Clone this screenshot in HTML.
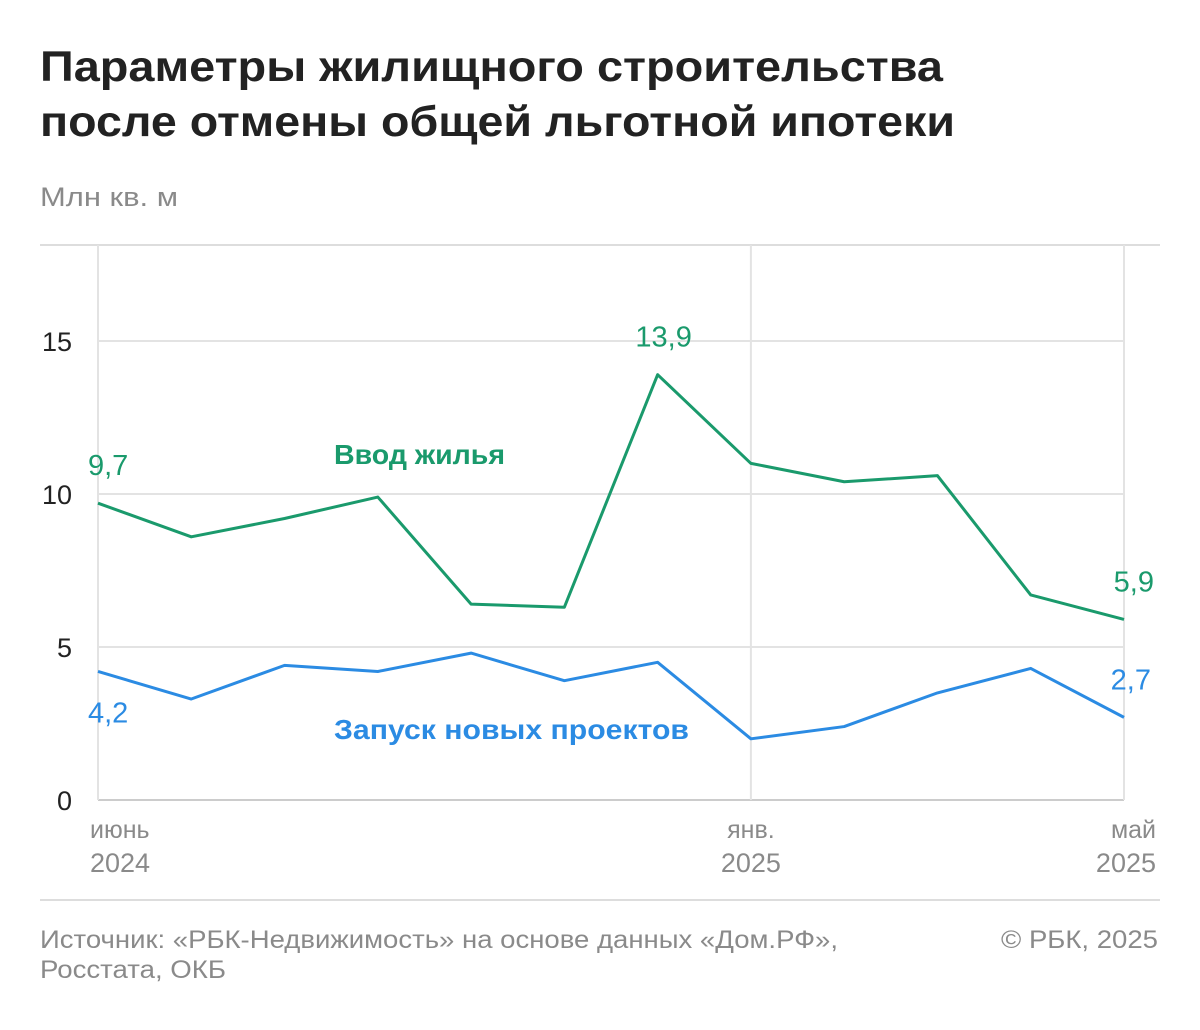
<!DOCTYPE html>
<html><head><meta charset="utf-8"><style>
body{margin:0;background:#fff;width:1200px;height:1025px;overflow:hidden;font-family:"Liberation Sans",sans-serif}
</style></head><body>
<svg width="1200" height="1025" id="chart" font-family="Liberation Sans, sans-serif">
<text x="40" y="81" font-size="43" font-weight="bold" fill="#222" textLength="903" lengthAdjust="spacingAndGlyphs">Параметры жилищного строительства</text>
<text x="40" y="136" font-size="43" font-weight="bold" fill="#222" textLength="915" lengthAdjust="spacingAndGlyphs">после отмены общей льготной ипотеки</text>
<text x="40" y="206" font-size="27" fill="#8a8a8a" textLength="138" lengthAdjust="spacingAndGlyphs">Млн кв. м</text>
<line x1="40" y1="245" x2="1160" y2="245" stroke="#ddd" stroke-width="2"/>
<line x1="40" y1="900" x2="1160" y2="900" stroke="#ddd" stroke-width="2"/>
<g id="grid"></g><g id="series"></g>
<text x="40" y="948" font-size="25" fill="#8a8a8a" textLength="798" lengthAdjust="spacingAndGlyphs">Источник: «РБК-Недвижимость» на основе данных «Дом.РФ»,</text>
<text x="40" y="978" font-size="25" fill="#8a8a8a" textLength="186" lengthAdjust="spacingAndGlyphs">Росстата, ОКБ</text>
<text x="1158" y="948" font-size="25" fill="#8a8a8a" text-anchor="end" textLength="157" lengthAdjust="spacingAndGlyphs">© РБК, 2025</text>
</svg>
<script>
const months = ["июнь 2024","июль","авг","сен","окт","ноя","дек","янв. 2025","фев","мар","апр","май 2025"];
const housingValues = [9.7,8.6,9.2,9.9,6.4,6.3,13.9,11.0,10.4,10.6,6.7,5.9];
const launchValues = [4.2,3.3,4.4,4.2,4.8,3.9,4.5,2.0,2.4,3.5,4.3,2.7];
const yTicks = [0,5,10,15];
const xTickIdx = [0,7,11];
const xTickLabels = [["июнь","2024"],["янв.","2025"],["май","2025"]];
const NS="http://www.w3.org/2000/svg";
const x=i=>98+i*(1124-98)/(months.length-1);
const y=v=>800-v*30.6;
function mk(tag,attrs,parent,text){const e=document.createElementNS(NS,tag);for(const k in attrs)e.setAttribute(k,attrs[k]);if(text!==undefined)e.textContent=text;parent.appendChild(e);return e;}
const grid=document.getElementById('grid'),ser=document.getElementById('series');
yTicks.forEach(t=>{
  const l=mk('line',{x1:98,x2:1124,y1:y(t),y2:y(t),stroke:t===0?'#ccc':'#e3e3e3','stroke-width':2},grid);
  
  
  const tx=mk('text',{x:72,y:y(t)+10,'font-size':27,fill:'#222','text-anchor':'end'},grid,String(t));
  
  
});
xTickIdx.forEach((i,k)=>{
  const l=mk('line',{x1:x(i),x2:x(i),y1:245,y2:800,stroke:'#e3e3e3','stroke-width':2},grid);
  
  
  const anchor=k===0?'start':(k===2?'end':'middle');
  const xx=k===0?x(i)-8:(k===2?x(i)+32:x(i));
  const t1=mk('text',{x:xx,y:838,'font-size':25,fill:'#8a8a8a','text-anchor':anchor},grid,xTickLabels[k][0]);
  
  
  const t2=mk('text',{x:xx,y:872,'font-size':27,fill:'#8a8a8a','text-anchor':anchor},grid,xTickLabels[k][1]);
  
  
});
function line(vals,color,name){
  const p=mk('polyline',{points:vals.map((v,i)=>x(i)+','+y(v)).join(' '),fill:'none',stroke:color,'stroke-width':3,'stroke-linejoin':'round'},ser);
  
  
}
line(housingValues,'#1a9a6c','housing-line');
line(launchValues,'#2b8be3','launch-line');
const fmt=v=>v.toFixed(1).replace('.',',');
function lbl(tx,xx,yy,color,anchor,name){const t=mk('text',{x:xx,y:yy,'font-size':29,fill:color,'text-anchor':anchor},ser,tx);
  
  }
const G='#1a9a6c',B='#2b8be3';
lbl(fmt(housingValues[0]),88,y(housingValues[0])-28,G,'start','housing-start-value');
const mi=housingValues.indexOf(Math.max(...housingValues));
lbl(fmt(housingValues[mi]),x(mi)+6,y(housingValues[mi])-28,G,'middle','housing-peak-value');
lbl(fmt(housingValues[11]),x(11)+30,y(housingValues[11])-28,G,'end','housing-end-value');
lbl(fmt(launchValues[0]),88,y(launchValues[0])+51,B,'start','launch-start-value');
lbl(fmt(launchValues[11]),x(11)+27,y(launchValues[11])-28,B,'end','launch-end-value');
const s1=mk('text',{x:334,y:464,'font-size':28,'font-weight':'bold',fill:G,textLength:171,lengthAdjust:'spacingAndGlyphs'},ser,'Ввод жилья');


const s2=mk('text',{x:334,y:739,'font-size':28,'font-weight':'bold',fill:B,textLength:355,lengthAdjust:'spacingAndGlyphs'},ser,'Запуск новых проектов');


</script>
</body></html>
